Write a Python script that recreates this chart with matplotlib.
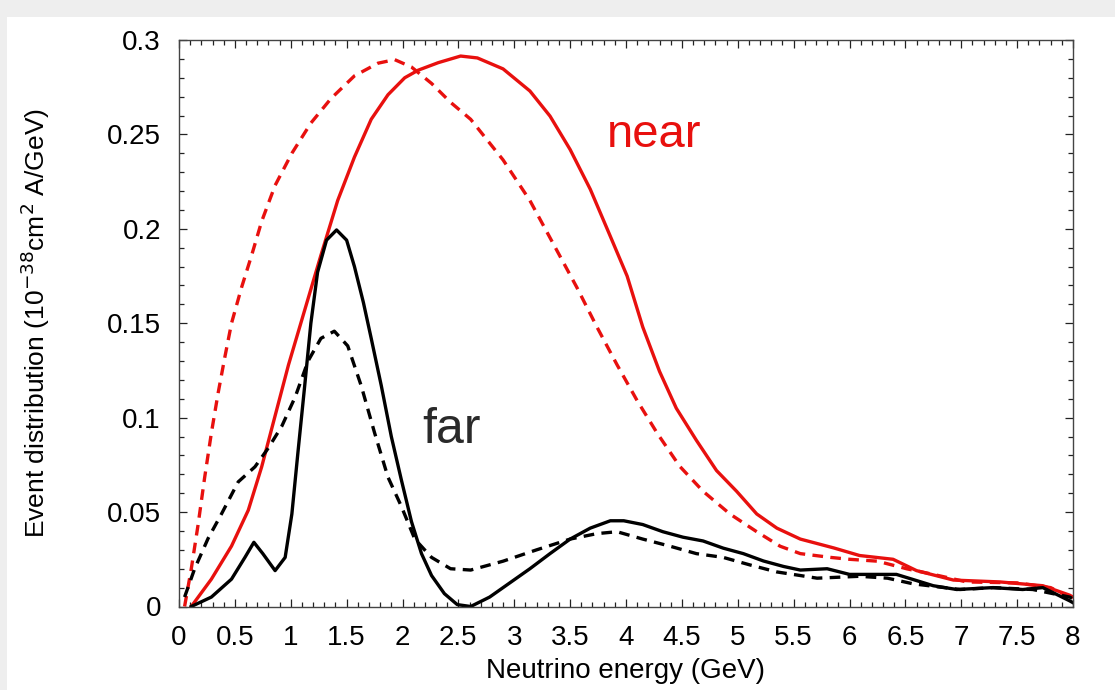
import matplotlib
matplotlib.use("Agg")
import matplotlib.pyplot as plt
from matplotlib.ticker import MultipleLocator, FixedLocator
from matplotlib.patches import Rectangle

plt.rcParams['font.family'] = ['Liberation Sans', 'DejaVu Sans']

# ---- data ----
near_solid_E = [0.11, 0.29, 0.47, 0.62, 0.74, 0.86, 0.98, 1.125, 1.27, 1.42, 1.57, 1.72, 1.87, 2.02,
                2.14, 2.32, 2.52, 2.67, 2.90, 3.14, 3.32, 3.50, 3.68, 3.86, 4.01, 4.15, 4.30, 4.45,
                4.63, 4.81, 4.99, 5.17, 5.35, 5.56, 5.86, 6.09, 6.39, 6.60, 6.93, 7.35, 7.73, 7.97, 8.0]
near_solid_v = [0.0, 0.0145, 0.032, 0.051, 0.074, 0.101, 0.128, 0.157, 0.186, 0.215, 0.238, 0.258, 0.271, 0.280,
                0.284, 0.288, 0.2915, 0.2905, 0.2847, 0.273, 0.2597, 0.242, 0.221, 0.196, 0.175, 0.148, 0.1245, 0.105,
                0.088, 0.072, 0.061, 0.049, 0.0415, 0.0357, 0.031, 0.027, 0.025, 0.019, 0.014, 0.013, 0.011, 0.006, 0.005]

near_dash_E = [0.05, 0.11, 0.17, 0.23, 0.29, 0.35, 0.41, 0.47, 0.56, 0.65, 0.74, 0.86, 1.01, 1.18,
               1.36, 1.57, 1.78, 1.93, 2.08, 2.26, 2.43, 2.61, 2.90, 3.14, 3.35, 3.56, 3.74, 3.92,
               4.10, 4.28, 4.48, 4.69, 4.93, 5.17, 5.38, 5.56, 5.83, 6.0, 6.25, 6.51, 6.75, 7.05,
               7.50, 7.80, 7.97, 8.0]
near_dash_v = [0.0, 0.020, 0.043, 0.0685, 0.092, 0.113, 0.132, 0.150, 0.169, 0.186, 0.204, 0.223, 0.240, 0.256,
               0.269, 0.281, 0.2877, 0.2896, 0.2857, 0.277, 0.267, 0.258, 0.2365, 0.215, 0.192, 0.169, 0.148, 0.128,
               0.109, 0.0917, 0.0743, 0.061, 0.049, 0.0396, 0.0319, 0.028, 0.026, 0.025, 0.024, 0.020, 0.017, 0.013,
               0.0125, 0.010, 0.005, 0.004]

far_solid_E = [0.11, 0.29, 0.47, 0.59, 0.67, 0.75, 0.86, 0.95, 1.01, 1.065, 1.125, 1.18, 1.24, 1.32,
               1.41, 1.50, 1.57, 1.65, 1.72, 1.81, 1.90, 1.99, 2.08, 2.17, 2.26, 2.375, 2.49, 2.61,
               2.78, 2.96, 3.14, 3.32, 3.50, 3.68, 3.86, 3.98, 4.15, 4.33, 4.51, 4.69, 4.87, 5.05,
               5.23, 5.41, 5.56, 5.80, 6.0, 6.42, 6.75, 6.96, 7.28, 7.55, 7.73, 7.97, 8.0]
far_solid_v = [0.0, 0.005, 0.0145, 0.026, 0.034, 0.028, 0.019, 0.026, 0.049, 0.082, 0.117, 0.150, 0.177, 0.194,
               0.1994, 0.194, 0.180, 0.161, 0.142, 0.117, 0.090, 0.067, 0.045, 0.028, 0.0164, 0.0068, 0.001, 0.0,
               0.005, 0.0125, 0.020, 0.028, 0.0357, 0.0415, 0.0454, 0.0454, 0.0434, 0.0396, 0.0367, 0.0347, 0.0309, 0.028,
               0.0241, 0.0212, 0.0193, 0.020, 0.017, 0.017, 0.011, 0.009, 0.010, 0.009, 0.010, 0.003, 0.002]

far_dash_E = [0.05, 0.14, 0.26, 0.38, 0.53, 0.68, 0.80, 0.92, 1.04, 1.155, 1.27, 1.39, 1.51, 1.63,
              1.75, 1.87, 1.99, 2.11, 2.26, 2.43, 2.61, 2.90, 3.20, 3.50, 3.74, 3.92, 4.15, 4.39,
              4.63, 4.87, 5.11, 5.35, 5.56, 5.71, 6.09, 6.34, 6.57, 6.99, 7.29, 7.64, 7.97, 8.0]
far_dash_v = [0.005, 0.020, 0.036, 0.049, 0.066, 0.074, 0.084, 0.0955, 0.111, 0.130, 0.142, 0.1458, 0.138, 0.117,
              0.092, 0.0685, 0.053, 0.0357, 0.026, 0.020, 0.0193, 0.024, 0.030, 0.0357, 0.0386, 0.0396, 0.0357, 0.032,
              0.028, 0.026, 0.022, 0.0183, 0.0164, 0.015, 0.016, 0.015, 0.012, 0.009, 0.010, 0.009, 0.005, 0.004]

x_ticks = [0, 0.5, 1, 1.5, 2, 2.5, 3, 3.5, 4, 4.5, 5, 5.5, 6, 6.5, 7, 7.5, 8]
x_ticklabels = ['0', '0.5', '1', '1.5', '2', '2.5', '3', '3.5', '4', '4.5', '5', '5.5', '6', '6.5', '7', '7.5', '8']
y_ticks = [0, 0.05, 0.1, 0.15, 0.2, 0.25, 0.3]
y_ticklabels = ['0', '0.05', '0.1', '0.15', '0.2', '0.25', '0.3']

RED = '#e8100e'

fig = plt.figure(figsize=(11.15, 6.9), dpi=100)
fig.patch.set_facecolor('#eeeeee')
fig.patches.append(Rectangle((7 / 1115, 0), 1, 1 - 17 / 690, transform=fig.transFigure,
                             facecolor='white', edgecolor='none', zorder=-10))

ax = fig.add_axes([179 / 1115, 1 - 606.5 / 690, (1073 - 179) / 1115, (606.5 - 40) / 690])

lw = 2.4
ax.plot(near_solid_E, near_solid_v, color=RED, lw=lw, solid_joinstyle='round')
ax.plot(near_dash_E, near_dash_v, color=RED, lw=lw, linestyle=(0, (3.2, 2.2)))
ax.plot(far_solid_E, far_solid_v, color='black', lw=lw, solid_joinstyle='round')
ax.plot(far_dash_E, far_dash_v, color='black', lw=lw, linestyle=(0, (3.2, 2.2)))

ax.set_xlim(0, 8)
ax.set_ylim(0, 0.3)
ax.xaxis.set_major_locator(FixedLocator(x_ticks))
ax.set_xticklabels(x_ticklabels)
ax.yaxis.set_major_locator(FixedLocator(y_ticks))
ax.set_yticklabels(y_ticklabels)
ax.xaxis.set_minor_locator(MultipleLocator(0.1))
ax.yaxis.set_minor_locator(MultipleLocator(0.01))
ax.tick_params(which='both', direction='in', top=True, right=True, width=0.9, colors='#222222',
               labelcolor='black', labelsize=20)
ax.tick_params(which='major', length=6, pad=13)
ax.tick_params(which='minor', length=3.5)
for s in ax.spines.values():
    s.set_linewidth(1.0)
    s.set_color('#444444')

ax.set_xlabel('Neutrino energy (GeV)', fontsize=20, labelpad=5)
ax.set_ylabel('Event distribution (10$^{-38}$cm$^2$ A/GeV)', fontsize=19)
ax.yaxis.set_label_coords(-0.142, 0.5)

ax.text(3.83, 0.2434, 'near', color=RED, fontsize=34, ha='left', va='baseline')
ax.text(2.18, 0.0866, 'far', color='#2a2a2a', fontsize=36, ha='left', va='baseline')

fig.savefig('out.png', dpi=100, facecolor=fig.get_facecolor())
